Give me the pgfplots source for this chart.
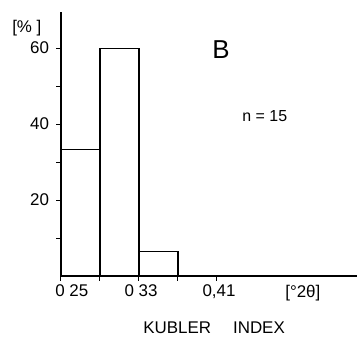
\documentclass[border=0pt]{standalone}
\usepackage{fontspec}
\setmainfont{Liberation Sans}
\usepackage{pgfplots}
\pgfplotsset{compat=1.18}
\begin{document}
\begin{tikzpicture}
\path[use as bounding box] (-61bp,-61bp) rectangle (296bp,276bp);
\begin{axis}[
  at={(0,0)}, anchor=south west,
  scale only axis, width=296bp, height=264bp,
  xmin=0.25, xmax=0.5536, ymin=0, ymax=69.5,
  axis lines*=left,
  axis line style={line width=1.1bp},
  clip=false,
  /pgf/number format/assume math mode=true,
  ticklabel style={font=\fontsize{17}{19}\selectfont},
  tick style={line width=1bp, black},
  major tick length=4.5bp, minor tick length=4.5bp,
  tick align=outside,
  ytick={20,40,60}, minor ytick={10,30,50},
  yticklabel style={xshift=-4bp},
  xtick={0.25,0.29,0.33,0.37,0.41},
  xticklabels={{},{},{0 33},{},{0,41}},
  xticklabel style={yshift=-1bp, xshift=2bp},
  extra x ticks={0.259,0.496},
  extra x tick labels={{0 25},{[°2θ]}},
  extra x tick style={major tick length=0pt, xticklabel style={xshift=0bp, yshift=-4.5bp}},
]
\addplot[ybar interval, draw=black, fill=none, line width=1.1bp]
  coordinates {(0.25,33.3) (0.29,59.8) (0.33,6.5) (0.37,6.5)};
\node[font=\fontsize{17}{19}\selectfont] at (axis cs:0.215,65.3) {[\% ]};
\node[font=\fontsize{26}{28}\selectfont] at (axis cs:0.414,59.5) {B};
\node[font=\fontsize{16}{18}\selectfont] at (axis cs:0.459,42.1) {n = 15};
\node[font=\fontsize{17}{19}\selectfont] at (axis cs:0.407,-13.7) {KUBLER\hspace{1.3em}INDEX};
\end{axis}
\end{tikzpicture}
\end{document}
